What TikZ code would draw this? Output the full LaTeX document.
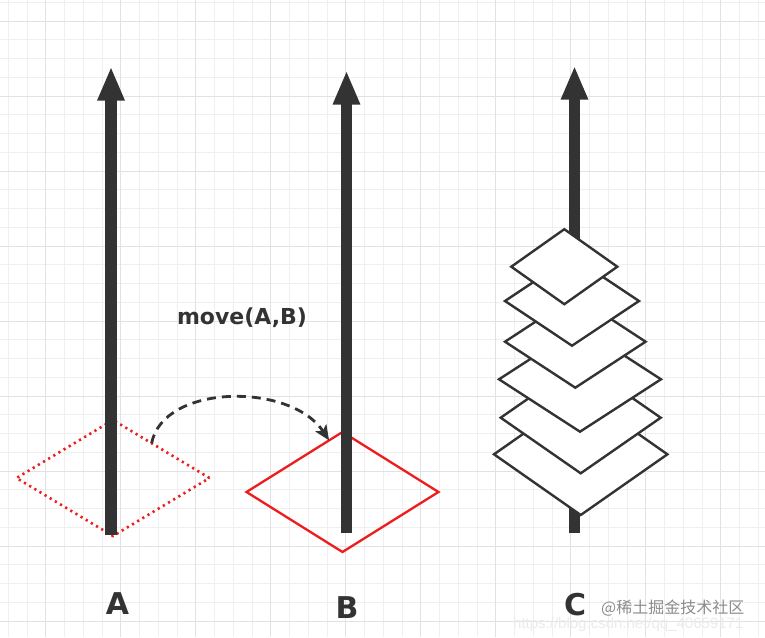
\documentclass[tikz,border=0pt]{standalone}
\usepackage{fontspec}
\newfontfamily\lblfont{DejaVu Sans}
\newfontfamily\cjk{Noto Sans CJK SC}
\newfontfamily\urlfont{Liberation Sans}
\usetikzlibrary{arrows.meta,shapes.geometric,calc}
\definecolor{ink}{HTML}{333333}
\definecolor{gridminor}{HTML}{EFEFEF}
\definecolor{gridmajor}{HTML}{E2E2E2}
\definecolor{redline}{HTML}{EE1C1C}
\definecolor{wmgray}{HTML}{8C8C8C}
\definecolor{urlgray}{HTML}{EBEBEB}
\begin{document}
\begin{tikzpicture}[x=1pt,y=-1pt,
  minorgrid/.style={draw=gridminor, line width=0.8pt},
  majorgrid/.style={draw=gridmajor, line width=0.9pt},
  shaft/.style={draw=ink, line width=11.5pt, -{Triangle[width=25pt,length=34pt]}},
  dia/.style={diamond, inner sep=0pt, outer sep=0pt},
  dotdia/.style={dia, draw=redline, line width=2.6pt, dash pattern=on 2.2pt off 3.8pt, minimum width=193pt, minimum height=116pt},
  soliddia/.style={dia, draw=redline, line width=2.3pt, minimum width=192pt, minimum height=120pt},
  cdia/.style={dia, draw=ink, fill=white, line width=2.4pt},
  movearrow/.style={draw=ink, line width=2.8pt, dash pattern=on 9pt off 6pt, -{Stealth[length=15pt,width=13pt,inset=3.5pt]}},
  lbl/.style={inner sep=0pt, text=ink, font=\lblfont\bfseries\fontsize{30}{34}\selectfont},
  movelbl/.style={inner sep=0pt, text=ink, font=\lblfont\bfseries\fontsize{22}{26}\selectfont}
]
\useasboundingbox (0,0) rectangle (765,637);
\fill[white] (0,0) rectangle (765,637);
% grid
\foreach \i in {0,...,40} \draw[minorgrid] ({8.2+18.75*\i},0) -- ({8.2+18.75*\i},637);
\foreach \i in {0,...,33} \draw[minorgrid] (0,{2.25+18.75*\i}) -- (765,{2.25+18.75*\i});
\foreach \i in {0,...,9} \draw[majorgrid] ({45.7+75*\i},0) -- ({45.7+75*\i},637);
\foreach \i in {0,...,8} \draw[majorgrid] (0,{21+75*\i}) -- (765,{21+75*\i});
% watermark url
\node[anchor=west, inner sep=0pt, text=urlgray, font=\urlfont\fontsize{15}{17}\selectfont] (url) at (513,625) {https://blog.csdn.net/qq\_40659171};
% A
\node[dotdia] (dA) at (113,478) {};
\coordinate (Abot) at (111,535);
\coordinate (Atip) at (111,66.5);
\draw[shaft] (Abot) -- (Atip);
% B
\node[soliddia] (dB) at (342.5,492) {};
\coordinate (Bbot) at (346.5,533);
\coordinate (Btip) at (346.5,70.5);
\draw[shaft] (Bbot) -- (Btip);
% move arrow
\coordinate (mvS) at ($(dA.north)!0.40!(dA.east)$);
\coordinate (mvE) at ($(dB.north)!0.14!(dB.west)$);
\draw[movearrow] (mvS) .. controls +(12,-60) and +(-38,-58) .. (mvE);
\node[movelbl] (mv) at (242,318) {move(A,B)};
% C
\coordinate (Cbot) at (574.5,533);
\coordinate (Ctip) at (574.5,65.7);
\draw[shaft] (Cbot) -- (Ctip);
\node[cdia, minimum width=173.4pt, minimum height=121.4pt] (c6) at (580.7,454.3) {};
\node[cdia, minimum width=160pt, minimum height=111.2pt] (c5) at (580.7,417.7) {};
\node[cdia, minimum width=162pt, minimum height=104.8pt] (c4) at (580,379.3) {};
\node[cdia, minimum width=140.6pt, minimum height=92pt] (c3) at (575.3,341.7) {};
\node[cdia, minimum width=134pt, minimum height=89.4pt] (c2) at (572,301) {};
\node[cdia, minimum width=106pt, minimum height=75pt] (c1) at (564.3,266.7) {};
% labels
\node[lbl] (labA) at (117.5,604) {A};
\node[lbl] (labB) at (347,607.5) {B};
\node[lbl] (labC) at (575,605) {C};
% watermark
\node[anchor=west, inner sep=0pt, text=wmgray, font=\cjk\fontsize{16}{18}\selectfont] (wm) at (601,608) {@稀土掘金技术社区};
\end{tikzpicture}
\end{document}
